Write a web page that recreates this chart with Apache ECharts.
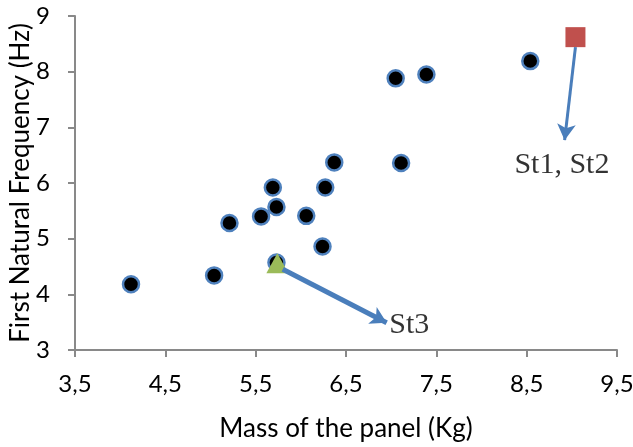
<!DOCTYPE html>
<html>
<head>
<meta charset="utf-8">
<script src="https://cdn.jsdelivr.net/npm/echarts@6/dist/echarts.min.js"></script>
<style>
  html, body { margin: 0; padding: 0; background: #fff; }
  #main { width: 633px; height: 447px; }
</style>
</head>
<body>
<div id="main"></div>
<script>
// 面板数据 (质量 Kg, 一阶固有频率 Hz)
var massData = [4.12, 5.04, 5.21, 5.56, 5.69, 5.73, 5.73, 6.06, 6.24, 6.27, 6.37, 7.05, 7.39, 7.11, 8.54];
var freqData = [4.18, 4.34, 5.28, 5.40, 5.92, 5.57, 4.57, 5.41, 4.86, 5.92, 6.37, 7.88, 7.95, 6.36, 8.19];
var st12Point = [9.04, 8.62];
var st3Point = [5.74, 4.56];

// 标注
var labelNames = ['St1, St2', 'St3'];
var labelPos = [[8.89, 6.32], [7.20, 3.45]];
var arrowSt12 = [[9.04, 8.44], [8.92, 6.77]];
var arrowSt3 = [[5.80, 4.45], [6.95, 3.49]];

var points = massData.map(function (m, i) { return [m, freqData[i]]; });

var myChart = echarts.init(document.getElementById('main'));

var nameFont = { fontFamily: 'Lato', fontSize: 26, color: '#000' };

var option = {
    animation: false,
    grid: { left: 75, right: 16, top: 16, bottom: 97, outerBoundsMode: 'none', containLabel: false },
    xAxis: {
        type: 'value',
        min: 3.5,
        max: 9.5,
        interval: 1,
        name: 'Mass of the panel (Kg)',
        nameLocation: 'middle',
        nameGap: 66,
        nameMoveOverlap: false,
        nameTextStyle: nameFont,
        axisLine: { lineStyle: { color: '#898989', width: 2 } },
        axisTick: { show: true, length: 7, lineStyle: { color: '#898989', width: 2 } },
        splitLine: { show: false },
        axisLabel: {
            margin: 22,
            fontFamily: 'Lato', fontSize: 24, color: '#000',
            formatter: function (v) { return v.toFixed(1).replace('.', ','); }
        }
    },
    yAxis: {
        type: 'value',
        min: 3,
        max: 9,
        interval: 1,
        name: 'First Natural Frequency (Hz)',
        nameLocation: 'middle',
        nameGap: 41,
        nameMoveOverlap: false,
        nameTextStyle: nameFont,
        axisLine: { show: true, lineStyle: { color: '#898989', width: 2 } },
        axisTick: { show: true, length: 7, lineStyle: { color: '#898989', width: 2 } },
        splitLine: { show: false },
        axisLabel: { margin: 25, fontFamily: 'Lato', fontSize: 24, color: '#000' }
    },
    series: [{
        name: 'panels',
        type: 'scatter',
        symbol: 'circle',
        symbolSize: 16,
        itemStyle: { color: '#000', borderColor: '#4f81bd', borderWidth: 2.5, opacity: 1 },
        data: points
    }, {
        name: 'St1, St2',
        type: 'scatter',
        symbol: 'rect',
        symbolSize: 20,
        itemStyle: { color: '#c0504d', opacity: 1 },
        data: [st12Point]
    }, {
        name: 'St3',
        type: 'scatter',
        symbol: 'triangle',
        symbolSize: [22, 20],
        itemStyle: { color: '#9bbb59', opacity: 1 },
        data: [st3Point]
    }, {
        name: 'labels',
        type: 'scatter',
        symbolSize: 0,
        silent: true,
        label: {
            show: true,
            position: 'inside',
            formatter: function (p) { return p.name; },
            fontFamily: 'Liberation Serif',
            fontSize: 30,
            color: '#000'
        },
        data: labelPos.map(function (p, i) { return { name: labelNames[i], value: p }; }),
        markLine: {
            silent: true,
            symbol: ['none', 'arrow'],
            symbolSize: [14, 16],
            label: { show: false },
            lineStyle: { type: 'solid', color: '#4a7ebb' },
            data: [
                [{ coord: arrowSt12[0], lineStyle: { width: 3, type: 'solid', color: '#4a7ebb' } }, { coord: arrowSt12[1] }],
                [{ coord: arrowSt3[0], lineStyle: { width: 5, type: 'solid', color: '#4a7ebb' } }, { coord: arrowSt3[1] }]
            ]
        }
    }]
};

myChart.setOption(option);
</script>
</body>
</html>
